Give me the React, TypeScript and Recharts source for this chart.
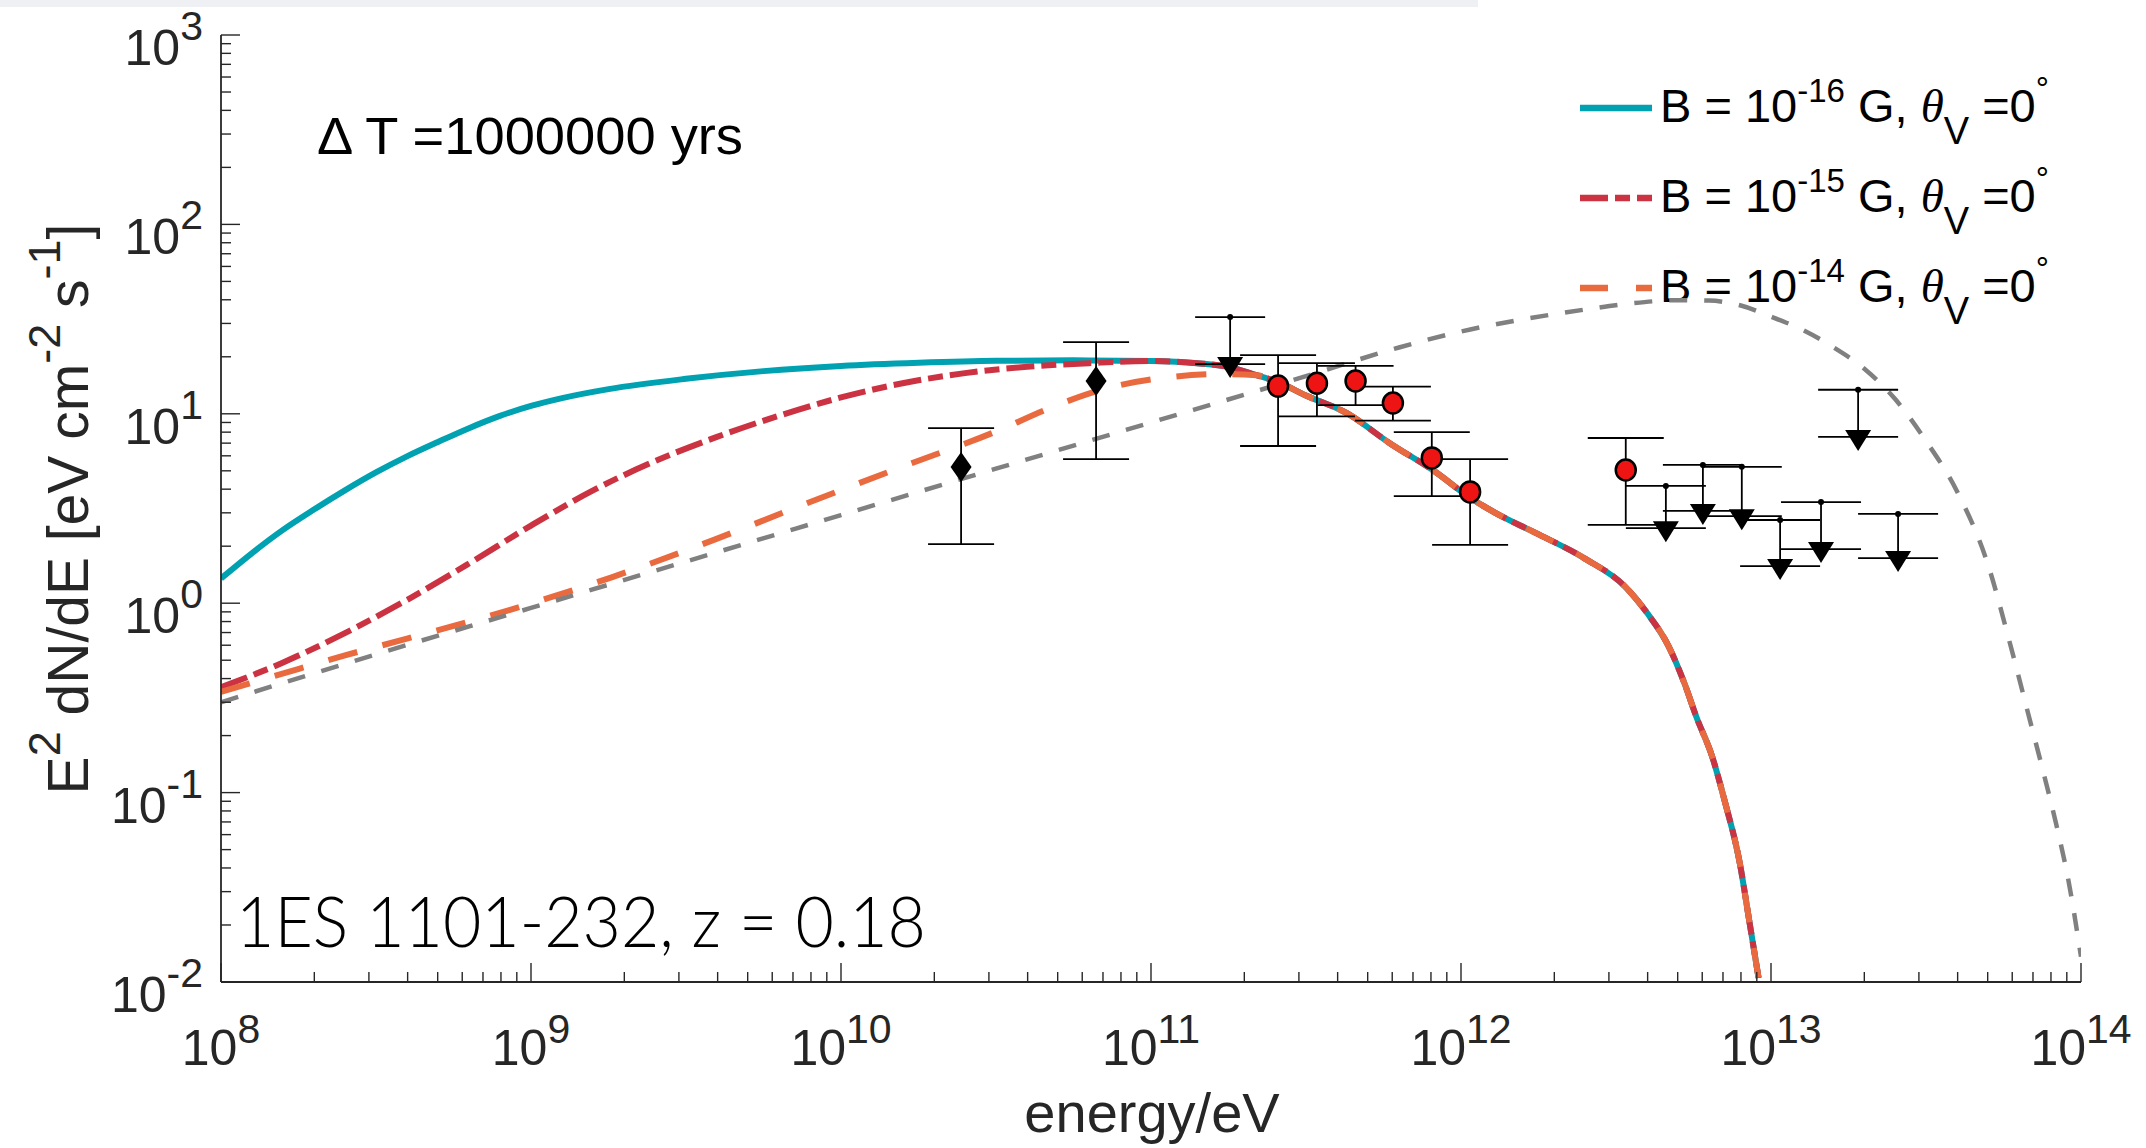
import React from 'react';
import { ComposedChart, Line, Scatter, XAxis, YAxis, ErrorBar, Customized } from 'recharts';

const FONT = '"Liberation Sans", Arial, Helvetica, sans-serif';
const AXIS_COLOR = '#262626';
const TEXT_COLOR = '#262626';
const W = 2146;
const H = 1148;

// ---------------- axis ticks ----------------
const xDecades = [1e8, 1e9, 1e10, 1e11, 1e12, 1e13, 1e14];
const yDecades = [1e-2, 1e-1, 1e0, 1e1, 1e2, 1e3];
const minorSteps = [2, 3, 4, 5, 6, 7, 8, 9];

// ---------------- model curves (energy in eV, E^2 dN/dE) ----------------
const b16HeadE = [1e8, 1.26e8, 1.58e8, 2e8, 2.51e8, 3.16e8, 3.98e8, 5.01e8, 6.31e8, 7.94e8, 1e9, 1.26e9, 1.78e9, 3.16e9, 5.62e9, 1e10, 1.78e10, 3.16e10, 5.62e10];
const b16HeadY = [1.35, 1.84, 2.43, 3.13, 3.94, 4.9, 5.96, 7.1, 8.4, 9.75, 11.0, 12.1, 13.5, 15.3, 16.8, 17.9, 18.6, 19.05, 19.15];

const cascadeTailE = [1e11, 1.41e11, 1.78e11, 2.19e11, 2.57e11, 3.16e11, 4.27e11, 5.89e11, 8.32e11, 1.07e12, 1.29e12, 1.74e12, 2.51e12, 3.39e12, 3.98e12, 4.68e12, 5.25e12, 5.75e12, 6.46e12, 7.08e12, 7.94e12, 8.51e12, 9.12e12];
const cascadeTailY = [19.0, 18.5, 17.7, 16.0, 14.7, 12.5, 10.1, 7.0, 4.9, 3.6, 3.0, 2.35, 1.72, 1.22, 0.89, 0.59, 0.38, 0.25, 0.155, 0.091, 0.042, 0.021, 0.0105];

const b15HeadE = [1e8, 1.58e8, 2.51e8, 3.98e8, 6.31e8, 1e9, 1.58e9, 2.51e9, 3.98e9, 6.31e9, 1e10, 1.58e10, 2.51e10, 3.98e10, 6.31e10];
const b15HeadY = [0.36, 0.485, 0.695, 1.04, 1.62, 2.57, 3.93, 5.62, 7.55, 9.77, 12.2, 14.5, 16.4, 17.7, 18.5];
const b15JoinE = 1e11;

const b14HeadE = [1e8, 1.62e8, 2.51e8, 3.98e8, 8.51e8, 1.82e9, 3.89e9, 7.16e9, 1.55e10, 3.24e10, 4.57e10, 6.92e10, 1.14e11, 1.68e11];
const b14HeadY = [0.34, 0.43, 0.53, 0.65, 0.92, 1.37, 2.16, 3.2, 5.2, 8.2, 10.5, 13.4, 15.6, 16.2];
const b14JoinE = 2.19e11;

const intrinsicE = [1e8, 3.16e8, 1e9, 3.16e9, 1e10, 3.16e10, 1e11, 3.16e11, 6.31e11, 1e12, 1.58e12, 2.51e12, 3.55e12, 5.01e12, 6.31e12, 7.94e12, 1e13, 1.26e13, 1.58e13, 2e13, 2.51e13, 3.16e13, 3.98e13, 5.01e13, 5.89e13, 6.76e13, 7.59e13, 8.32e13, 9.12e13, 1e14];
const intrinsicY = [0.30, 0.537, 0.944, 1.66, 2.92, 5.13, 9.0, 15.8, 22.4, 27.2, 31.5, 35.5, 38.3, 39.8, 39.6, 37.4, 32.6, 27.8, 22.6, 17.3, 12.0, 7.2, 3.9, 1.6, 0.62, 0.26, 0.125, 0.068, 0.034, 0.0136];

// ---------------- measured points ----------------
const fermiE = [2.44e10, 6.65e10];
const fermiY = [5.24, 14.9];
const fermiLo = [2.05, 5.77];
const fermiHi = [8.4, 23.9];

const fermiUlE = [1.8e11];
const fermiUlTop = [32.4];
const fermiUlLow = [18.3];

const hessE = [2.57e11, 3.43e11, 4.57e11, 6.03e11, 8.05e11, 1.07e12, 3.4e12];
const hessY = [14.0, 14.5, 14.9, 11.4, 5.85, 3.87, 5.05];
const hessLo = [6.76, 9.7, 11.1, 9.2, 3.68, 2.03, 2.59];
const hessHi = [20.4, 18.5, 17.9, 13.9, 8.0, 5.77, 7.45];

const hessUlE = [4.58e12, 6.03e12, 8.05e12, 1.07e13, 1.45e13, 1.91e13, 2.57e13];
const hessUlTop = [4.16, 5.37, 5.25, 2.75, 3.42, 13.4, 2.96];
const hessUlLow = [2.49, 3.07, 2.88, 1.57, 1.93, 7.55, 1.73];

// ---------------- legend ----------------
const legendExps = ['-16', '-15', '-14'];
const legendColors = ['#00A1B1', '#CC3342', '#EA6A40'];
const legendDashes = [undefined, '28 7 15 7', '28 28'];

// ---------------- derived tables ----------------
const withMinors = (decades: number[]) => {
  const out: number[] = [];
  decades.forEach((d, i) => {
    out.push(d);
    if (i < decades.length - 1) minorSteps.forEach((m) => out.push(d * m));
  });
  return out;
};
const xTicks = withMinors(xDecades);
const yTicks = withMinors(yDecades);

const zip = (es: number[], ys: number[]) => es.map((x, i) => ({ x, y: ys[i] }));
const tail = zip(cascadeTailE, cascadeTailY);
const b16Data = [...zip(b16HeadE, b16HeadY), ...tail];
const b15Data = [...zip(b15HeadE, b15HeadY), ...tail.filter((p) => p.x >= b15JoinE)];
const b14Data = [...zip(b14HeadE, b14HeadY), ...tail.filter((p) => p.x >= b14JoinE)];
const intrinsicData = zip(intrinsicE, intrinsicY);

const fermiData = fermiE.map((x, i) => ({ x, y: fermiY[i], err: [fermiY[i] - fermiLo[i], fermiHi[i] - fermiY[i]] }));
const fermiUlData = fermiUlE.map((x, i) => ({ x, y: fermiUlLow[i], err: [0, fermiUlTop[i] - fermiUlLow[i]] }));
const fermiUlTopData = fermiUlE.map((x, i) => ({ x, y: fermiUlTop[i] }));
const hessData = hessE.map((x, i) => ({ x, y: hessY[i], err: [hessY[i] - hessLo[i], hessHi[i] - hessY[i]] }));
const hessUlData = hessUlE.map((x, i) => ({ x, y: hessUlLow[i], err: [0, hessUlTop[i] - hessUlLow[i]] }));
const hessUlTopData = hessUlE.map((x, i) => ({ x, y: hessUlTop[i] }));

// ---------------- helpers ----------------
const isMajor = (v: number) => {
  const l = Math.log10(v);
  return Math.abs(l - Math.round(l)) < 1e-6;
};
const expOf = (v: number) => String(Math.round(Math.log10(v)));

const BottomTick = (props: any) => {
  const { x, y, payload } = props;
  const v = payload.value;
  const major = isMajor(v);
  return (
    <g>
      <line x1={x} x2={x} y1={y} y2={y - (major ? 19 : 10)} stroke={AXIS_COLOR} strokeWidth={1.4} />
      {major && (
        <text x={x} y={y + 83} textAnchor="middle" fontFamily={FONT} fontSize={50} fill={TEXT_COLOR}>
          <tspan>10</tspan>
          <tspan dy={-22} fontSize={41}>{expOf(v)}</tspan>
        </text>
      )}
    </g>
  );
};
const TopTick = (props: any) => {
  const { x, y, payload } = props;
  const major = isMajor(payload.value);
  return <line x1={x} x2={x} y1={y} y2={y + (major ? 19 : 10)} stroke={AXIS_COLOR} strokeWidth={1.4} />;
};
const LeftTick = (props: any) => {
  const { x, y, payload } = props;
  const v = payload.value;
  const major = isMajor(v);
  return (
    <g>
      <line x1={x} x2={x + (major ? 19 : 10)} y1={y} y2={y} stroke={AXIS_COLOR} strokeWidth={1.4} />
      {major && (
        <text x={x - 18} y={y + 30} textAnchor="end" fontFamily={FONT} fontSize={50} fill={TEXT_COLOR}>
          <tspan>10</tspan>
          <tspan dy={-25} fontSize={41}>{expOf(v)}</tspan>
        </text>
      )}
    </g>
  );
};
const RightTick = (props: any) => {
  const { x, y, payload } = props;
  const major = isMajor(payload.value);
  return <line x1={x} x2={x - (major ? 19 : 10)} y1={y} y2={y} stroke={AXIS_COLOR} strokeWidth={1.4} />;
};

const Diamond = (p: any) => {
  const { cx, cy } = p;
  return <polygon points={`${cx},${cy - 15} ${cx + 10.5},${cy} ${cx},${cy + 15} ${cx - 10.5},${cy}`} fill="#000" />;
};
const DownTriangle = (p: any) => {
  const { cx, cy } = p;
  return <polygon points={`${cx - 13},${cy - 7} ${cx + 13},${cy - 7} ${cx},${cy + 14}`} fill="#000" />;
};
const RedCircle = (p: any) => {
  const { cx, cy } = p;
  return <ellipse cx={cx} cy={cy} rx={10} ry={10.5} fill="#EE1414" stroke="#000" strokeWidth={2.5} />;
};
const SmallDot = (p: any) => {
  const { cx, cy } = p;
  return <circle cx={cx} cy={cy} r={3} fill="#000" />;
};

const Overlay = () => (
  <g>
    {/* y axis title */}
    <text transform="translate(88,509) rotate(-90)" textAnchor="middle" fontFamily={FONT} fontSize={57} fill={TEXT_COLOR} style={{ whiteSpace: 'pre' }}>
      <tspan>E</tspan>
      <tspan dy={-28} fontSize={45}>2</tspan>
      <tspan dy={28}> dN/dE [eV cm</tspan>
      <tspan dy={-28} fontSize={45}>-2</tspan>
      <tspan dy={28}> s</tspan>
      <tspan dy={-28} fontSize={45}>-1</tspan>
      <tspan dy={28}>]</tspan>
    </text>
    {/* x axis title */}
    <text x={1152} y={1132} textAnchor="middle" fontFamily={FONT} fontSize={56} fill={TEXT_COLOR}>energy/eV</text>
    {/* annotations */}
    <text x={317} y={154} fontFamily={FONT} fontSize={51} fill="#000" textLength={426} lengthAdjust="spacingAndGlyphs" style={{ whiteSpace: 'pre' }}>Δ T =1000000 yrs</text>
    <text x={236} y={947} fontFamily="Lato, 'Noto Sans', sans-serif" fontWeight={300} fontSize={70} fill="#000" textLength={690} lengthAdjust="spacingAndGlyphs" style={{ whiteSpace: 'pre' }}>1ES 1101-232, z = 0.18</text>
    {/* legend */}
    {legendExps.map((e, i) => (
      <g key={e}>
        <line x1={1580} x2={1652} y1={108 + i * 90} y2={108 + i * 90} stroke={legendColors[i]} strokeWidth={6.5} strokeDasharray={legendDashes[i]} />
        <text x={1660} y={122 + i * 90} fontFamily={FONT} fontSize={47} fill="#000" style={{ whiteSpace: 'pre' }}>
          <tspan>B = 10</tspan>
          <tspan dy={-20} fontSize={33}>{e}</tspan>
          <tspan dy={20}> G, </tspan>
          <tspan fontFamily="'Liberation Serif', 'DejaVu Serif', serif" fontStyle="italic">θ</tspan>
          <tspan dy={22} fontSize={38}>V</tspan>
          <tspan dy={-22}> =0</tspan>
          <tspan dy={-22} fontSize={33}>°</tspan>
        </text>
      </g>
    ))}
  </g>
);

export default function App() {
  return (
    <div style={{ position: 'absolute', left: 0, top: 0, width: W, height: H, background: '#fff' }}>
      <div style={{ position: 'absolute', left: 0, top: 0, width: 1478, height: 7, background: '#eef0f3' }} />
      <ComposedChart width={W} height={H} margin={{ top: 35, right: 65, bottom: 0, left: 0 }}>
        <XAxis
          xAxisId={0}
          dataKey="x"
          type="number"
          scale="log"
          domain={[1e8, 1e14]}
          allowDataOverflow
          ticks={xTicks}
          interval={0}
          height={166}
          tickSize={0}
          tickMargin={0}
          tickLine={false}
          axisLine={{ stroke: AXIS_COLOR, strokeWidth: 1.8 }}
          tick={(p: any) => <BottomTick {...p} />}
        />
        <XAxis
          xAxisId="top"
          orientation="top"
          type="number"
          scale="log"
          domain={[1e8, 1e14]}
          allowDataOverflow
          ticks={xTicks}
          interval={0}
          height={0}
          tickSize={0}
          tickMargin={0}
          tickLine={false}
          axisLine={{ stroke: AXIS_COLOR, strokeWidth: 1.8 }}
          tick={(p: any) => <TopTick {...p} />}
        />
        <YAxis
          yAxisId={0}
          dataKey="y"
          type="number"
          scale="log"
          domain={[1e-2, 1e3]}
          allowDataOverflow
          ticks={yTicks}
          interval={0}
          width={221}
          tickSize={0}
          tickMargin={0}
          tickLine={false}
          axisLine={{ stroke: AXIS_COLOR, strokeWidth: 1.8 }}
          tick={(p: any) => <LeftTick {...p} />}
        />
        <YAxis
          yAxisId="right"
          orientation="right"
          type="number"
          scale="log"
          domain={[1e-2, 1e3]}
          allowDataOverflow
          ticks={yTicks}
          interval={0}
          width={0}
          tickSize={0}
          tickMargin={0}
          tickLine={false}
          axisLine={{ stroke: AXIS_COLOR, strokeWidth: 1.8 }}
          tick={(p: any) => <RightTick {...p} />}
        />

        <Line data={b16Data} dataKey="y" type="monotone" stroke="#00A1B1" strokeWidth={6} dot={false} isAnimationActive={false} />
        <Line data={b15Data} dataKey="y" type="monotone" stroke="#CC3342" strokeWidth={6} strokeDasharray="28 7 15 7" dot={false} isAnimationActive={false} />
        <Line data={b14Data} dataKey="y" type="monotone" stroke="#EA6A40" strokeWidth={6} strokeDasharray="30 26" dot={false} isAnimationActive={false} />
        <Line data={intrinsicData} dataKey="y" type="monotone" stroke="#808080" strokeWidth={4.5} strokeDasharray="18 17" dot={false} isAnimationActive={false} />

        <Scatter data={fermiData} dataKey="y" shape={Diamond} isAnimationActive={false}>
          <ErrorBar dataKey="err" direction="y" width={33} stroke="#000" strokeWidth={1.8} />
        </Scatter>
        <Scatter data={fermiUlData} dataKey="y" shape={DownTriangle} isAnimationActive={false}>
          <ErrorBar dataKey="err" direction="y" width={35} stroke="#000" strokeWidth={1.8} />
        </Scatter>
        <Scatter data={fermiUlTopData} dataKey="y" shape={SmallDot} isAnimationActive={false} />
        <Scatter data={hessData} dataKey="y" shape={RedCircle} isAnimationActive={false}>
          <ErrorBar dataKey="err" direction="y" width={38} stroke="#000" strokeWidth={1.8} />
        </Scatter>
        <Scatter data={hessUlData} dataKey="y" shape={DownTriangle} isAnimationActive={false}>
          <ErrorBar dataKey="err" direction="y" width={40} stroke="#000" strokeWidth={1.8} />
        </Scatter>
        <Scatter data={hessUlTopData} dataKey="y" shape={SmallDot} isAnimationActive={false} />

        <Customized component={Overlay} />
      </ComposedChart>
    </div>
  );
}
